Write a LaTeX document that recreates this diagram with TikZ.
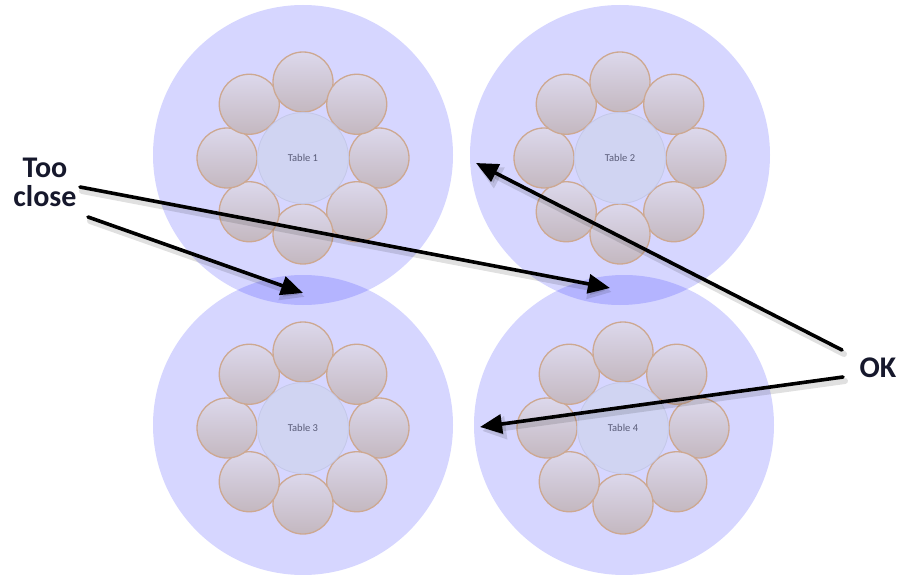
\documentclass[tikz,border=0pt]{standalone}
\usepackage{fontspec}
\setmainfont{Carlito}
\usetikzlibrary{arrows.meta,calc}
\definecolor{ringblue}{RGB}{0,0,255}
\definecolor{chairedge}{RGB}{205,168,145}
\definecolor{chairtop}{RGB}{220,216,236}
\definecolor{chairbot}{RGB}{196,184,192}
\definecolor{tablefill}{RGB}{208,212,242}
\definecolor{tableedge}{RGB}{196,200,232}
\definecolor{labeltext}{RGB}{90,92,120}
\definecolor{calltext}{RGB}{22,24,44}
\tikzset{
  zone/.style={fill=ringblue,fill opacity=0.16,draw=none},
  chair/.style={draw=chairedge,line width=1.3pt,top color=chairtop,bottom color=chairbot},
  tablec/.style={circle,minimum size=91pt,inner sep=0pt,fill=tablefill,draw=tableedge,line width=0.8pt,
    text=labeltext,font=\fontsize{10.5}{12}\selectfont},
  callout/.style={font=\fontsize{30}{29}\selectfont\bfseries,text=calltext,align=center,inner sep=0pt},
  pointer/.style={line width=3.6pt,-{Triangle[length=22pt,width=19pt]},draw=black,line cap=round},
  pointershadow/.style={line width=6pt,-{Triangle[length=24pt,width=22pt]},draw=black,draw opacity=0.12,fill opacity=0.12,line cap=round}
}
\newcommand\mytablegroup[4]{%
  \foreach \a in {0,45,...,315}{\path[chair] ($(#2,#3)+(\a:76)$) circle[radius=30pt];}
  \node[tablec] (#1) at (#2,#3) {#4};
}
\begin{document}
\begin{tikzpicture}[x=1pt,y=-1pt]
\useasboundingbox (0,0) rectangle (898,575);
% seating zones
\path[zone] (303,155) circle[radius=150pt];
\path[zone] (620,155) circle[radius=150pt];
\path[zone] (303,425) circle[radius=150pt];
\path[zone] (624,425) circle[radius=150pt];
% tables with chairs
\mytablegroup{t1}{303}{158}{Table 1}
\mytablegroup{t2}{620}{158}{Table 2}
\mytablegroup{t3}{303}{428}{Table 3}
\mytablegroup{t4}{623}{428}{Table 4}
% callouts
\node[callout] (tc) at (45,182) {Too\\close};
\node[callout] (ok) at (878,368) {OK};
% arrow ends
\coordinate (a1s) at (80,187);
\coordinate (a1e) at (610,288);
\coordinate (a2s) at (88,217);
\coordinate (a2e) at (303,293);
\coordinate (a3s) at (842,350);
\coordinate (a3e) at (476,163);
\coordinate (a4s) at (843,377);
\coordinate (a4e) at (480,427);
% shadows
\foreach \s/\e in {a1s/a1e,a2s/a2e,a3s/a3e,a4s/a4e}{
  \draw[pointershadow] ($(\s)+(2,4)$) -- ($(\e)+(2,4)$);
}
% pointers
\draw[pointer] (a1s) -- (a1e);
\draw[pointer] (a2s) -- (a2e);
\draw[pointer] (a3s) -- (a3e);
\draw[pointer] (a4s) -- (a4e);
\end{tikzpicture}
\end{document}
